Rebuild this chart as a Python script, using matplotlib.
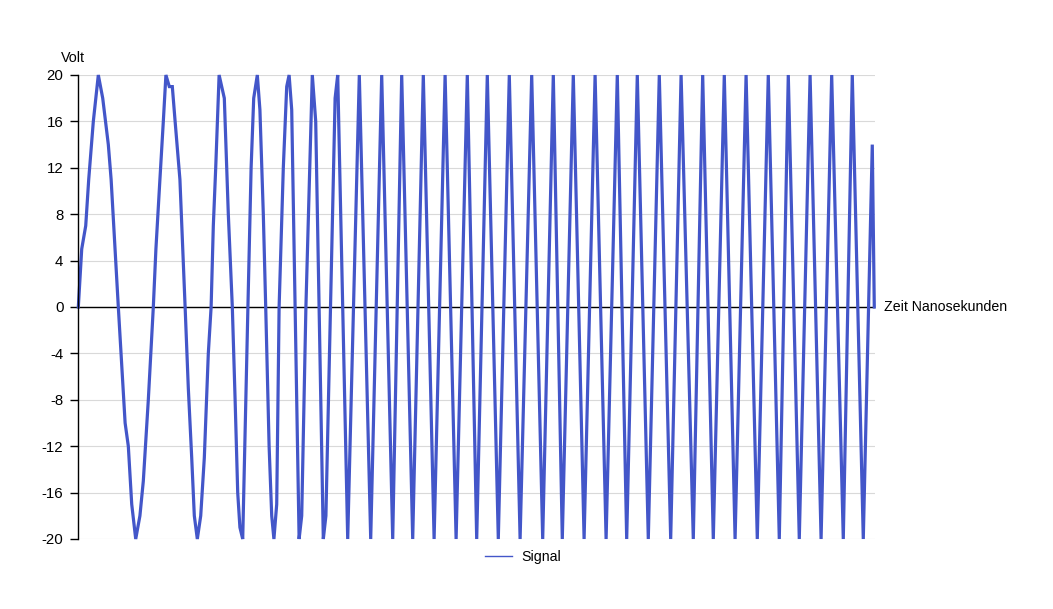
import matplotlib
matplotlib.use('Agg')
import matplotlib.pyplot as plt
import numpy as np
from matplotlib.lines import Line2D

plt.rcParams['font.family'] = ['Liberation Sans', 'DejaVu Sans']
plt.rcParams['axes.unicode_minus'] = False

# Stuetzstellen des Signals (Zeit in ns, Spannung in Volt)
zeit_start = [0.0, 0.85, 1.85, 2.6, 3.75, 5.0, 6.1, 7.5, 8.2, 10.0,
              11.7, 12.5, 13.35, 14.35, 15.4, 16.25, 17.5, 18.75, 19.4, 20.4,
              21.25, 21.9, 22.75, 23.5, 24.2, 25.4, 26.7, 27.5, 28.35, 29.0,
              29.75, 30.6, 31.5, 32.5, 33.2, 33.75, 34.35, 35.2, 36.5, 37.5,
              38.5, 39.2, 39.85, 40.4, 41.1, 42.4, 43.2, 43.85, 44.75, 45.4,
              46.25, 46.85, 47.7, 48.35, 48.9, 49.6, 50.2, 51.25, 52.1, 52.7,
              53.35, 55.2, 55.85, 56.9, 58.5, 59.35, 61.25, 61.9, 64.2, 64.85,
              67.35, 70.25, 73.1]
volt_start = [0, 5, 7, 11, 16, 20, 18, 14, 11, 0,
              -10, -12, -17, -20, -18, -15, -8, 0, 5, 11,
              16, 20, 19, 19, 16, 11, 0, -7, -13, -18,
              -20, -18, -13, -4, 0, 7, 12, 20, 18, 8,
              0, -8, -16, -19, -20, 0, 12, 18, 20, 17,
              8, 0, -12, -18, -20, -17, 0, 12, 19, 20,
              17, -20, -18, 0, 20, 16, -20, -18, 18, 20,
              -20, 20, -20]

# ab hier fast gerade Flanken: Spitzen (+20 V) und Taeler (-20 V)
zeit_spitzen = [75.85, 80.85, 86.25, 91.7, 97.25, 102.25, 107.75, 113.35, 118.75, 123.75,
                129.2, 134.75, 139.75, 145.25, 150.7, 156.1, 161.5, 166.95, 172.5, 177.5,
                182.95, 188.35, 193.5]
zeit_taeler = [78.6, 83.6, 88.95, 94.45, 99.6, 105.0, 110.45, 116.1, 121.0, 126.45,
               131.95, 137.1, 142.5, 148.1, 153.75, 158.75, 164.2, 169.75, 175.25, 180.25,
               185.7, 191.25, 196.25]
zeit_ende = [198.5, 199.0]
volt_ende = [14, 0]

zeit = list(zeit_start)
volt = list(volt_start)
for sp, ta in zip(zeit_spitzen, zeit_taeler):
    zeit += [sp, ta]
    volt += [20, -20]
zeit += zeit_ende
volt += volt_ende

blau = '#4356c9'

fig = plt.figure(figsize=(10.53, 6.09), dpi=100)
ax = fig.add_axes([78 / 1053, 70 / 609, 797 / 1053, 464 / 609])

ax.plot(zeit, volt, color=blau, linewidth=2.3, solid_joinstyle='miter', clip_on=False)
ax.set_xlim(-0.08, 199.18)
ax.set_ylim(-20, 20)
ax.set_yticks(np.arange(-20, 21, 4))
ax.set_xticks([])
ax.grid(axis='y', color='#d9d9d9', linewidth=0.8)
ax.set_axisbelow(True)
ax.axhline(0, color='black', linewidth=1.0, zorder=1.5)

for s in ['top', 'right', 'bottom']:
    ax.spines[s].set_visible(False)
ax.spines['left'].set_color('black')
ax.spines['left'].set_linewidth(1.0)
ax.tick_params(axis='y', length=6, width=1.0, color='black', labelsize=10.8, pad=4.5)

fig.text(61 / 1053, 1 - 58 / 609, 'Volt', fontsize=10.3, ha='left', va='center')
fig.text(884 / 1053, 1 - 307 / 609, 'Zeit Nanosekunden', fontsize=10.2, ha='left', va='center')

handle = Line2D([], [], color=blau, linewidth=1.0)
fig.legend([handle], ['Signal'], loc='center', bbox_to_anchor=(523 / 1053, 1 - 557 / 609),
           frameon=False, fontsize=10.2, handlelength=1.9, handletextpad=0.7)

fig.savefig('out.png', dpi=100)
